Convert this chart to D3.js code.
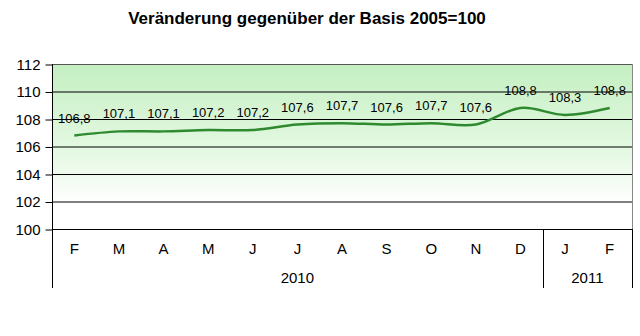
<!DOCTYPE html>
<meta charset="utf-8">
<script src="https://cdn.jsdelivr.net/npm/d3@7"></script>
<style>
  body { margin: 0; background: #fff; }
  svg { display: block; font-family: "Liberation Sans", Arial, sans-serif; }
</style>
<body>
<script>

// data
var months = ["F", "M", "A", "M", "J", "J", "A", "S", "O", "N", "D", "J", "F"];
var years = ["2010", "2010", "2010", "2010", "2010", "2010", "2010", "2010", "2010", "2010", "2010", "2011", "2011"];
var values = [106.8, 107.1, 107.1, 107.2, 107.2, 107.6, 107.7, 107.6, 107.7, 107.6, 108.8, 108.3, 108.8];
var yTicks = [100, 102, 104, 106, 108, 110, 112];
var title = "Veränderung gegenüber der Basis 2005=100";

var W = 640, H = 336;
var plotLeft = 52, plotRight = 632, plotTop = 64, plotBottom = 229, axisBottom = 288;

var svg = d3.select("body").append("svg")
    .attr("width", W)
    .attr("height", H);

var defs = svg.append("defs");
var grad = defs.append("linearGradient")
    .attr("id", "bg")
    .attr("x1", 0).attr("y1", 0).attr("x2", 0).attr("y2", 1);
grad.append("stop").attr("offset", "0%").attr("stop-color", "#c4efc2");
grad.append("stop").attr("offset", "55%").attr("stop-color", "#e6f9e4");
grad.append("stop").attr("offset", "85%").attr("stop-color", "#ffffff");

var idx = values.map(function(d, i) { return i; });

var x = d3.scaleBand()
    .domain(idx)
    .range([plotLeft, plotRight])
    .paddingInner(0)
    .paddingOuter(0);

var y = d3.scaleLinear()
    .domain([100, 112])
    .range([plotBottom, plotTop]);

// title
svg.append("text")
    .attr("x", 307)
    .attr("y", 24)
    .attr("text-anchor", "middle")
    .style("font-size", "17px")
    .style("font-weight", "bold")
    .text(title);

// plot background
svg.append("rect")
    .attr("x", plotLeft).attr("y", plotTop)
    .attr("width", plotRight - plotLeft).attr("height", plotBottom - plotTop)
    .style("fill", "url(#bg)");

// gridlines
svg.append("g").selectAll("line")
    .data(yTicks.slice(1))
    .enter().append("line")
    .attr("x1", plotLeft).attr("x2", plotRight)
    .attr("y1", function(d) { return y(d) + 0.5; })
    .attr("y2", function(d) { return y(d) + 0.5; })
    .style("stroke", function(d) { return d == 112 ? "#555" : "#000"; })
    .style("stroke-width", 1);

// right border
svg.append("line")
    .attr("x1", plotRight + 0.5).attr("x2", plotRight + 0.5)
    .attr("y1", plotTop).attr("y2", plotBottom)
    .style("stroke", "#888");

// y axis
var yAxis = d3.axisLeft(y)
    .tickValues(yTicks)
    .tickSize(7)
    .tickPadding(5)
    .tickFormat(d3.format("d"));

var ya = svg.append("g")
    .attr("transform", "translate(" + (plotLeft + 0.5) + ",0.5)")
    .call(yAxis);
ya.select(".domain").remove();
ya.selectAll("line").style("stroke", "#000");
ya.selectAll("text")
    .style("font-size", "15px")
    .style("font-family", "'Liberation Sans', Arial, sans-serif")
    .style("fill", "#000");

// category axis frame
svg.append("line")
    .attr("x1", plotLeft + 0.5).attr("x2", plotLeft + 0.5)
    .attr("y1", plotTop).attr("y2", axisBottom)
    .style("stroke", "#000");
svg.append("line")
    .attr("x1", plotLeft).attr("x2", plotRight + 1)
    .attr("y1", plotBottom + 0.5).attr("y2", plotBottom + 0.5)
    .style("stroke", "#000");

// year groups
var yearGroups = d3.groups(idx, function(i) { return years[i]; });
var yg = svg.append("g").selectAll("g")
    .data(yearGroups)
    .enter().append("g");

yg.append("line")
    .attr("x1", function(d) { return Math.round(x(d[1][d[1].length - 1]) + x.bandwidth()) + 0.5; })
    .attr("x2", function(d) { return Math.round(x(d[1][d[1].length - 1]) + x.bandwidth()) + 0.5; })
    .attr("y1", plotBottom).attr("y2", axisBottom)
    .style("stroke", "#000");

yg.append("text")
    .attr("x", function(d) { return (x(d[1][0]) + x(d[1][d[1].length - 1]) + x.bandwidth()) / 2; })
    .attr("y", 283)
    .attr("text-anchor", "middle")
    .style("font-size", "15px")
    .text(function(d) { return d[0]; });

// month labels
svg.append("g").selectAll("text")
    .data(idx)
    .enter().append("text")
    .attr("x", function(i) { return x(i) + x.bandwidth() / 2; })
    .attr("y", 254)
    .attr("text-anchor", "middle")
    .style("font-size", "15px")
    .text(function(i) { return months[i]; });

// line
var line = d3.line()
    .x(function(i) { return x(i) + x.bandwidth() / 2; })
    .y(function(i) { return y(values[i]); })
    .curve(d3.curveCardinal.tension(0));

svg.append("path")
    .datum(idx)
    .attr("d", line)
    .style("fill", "none")
    .style("stroke", "#2f8a2f")
    .style("stroke-width", 2.5);

// value labels
var fmt = function(v) { return d3.format(".1f")(v).replace(".", ","); };
svg.append("g").selectAll("text")
    .data(idx)
    .enter().append("text")
    .attr("x", function(i) { return x(i) + x.bandwidth() / 2; })
    .attr("y", function(i) { return y(values[i]) - 13; })
    .attr("text-anchor", "middle")
    .style("font-size", "13px")
    .text(function(i) { return fmt(values[i]); });

</script>
</body>
